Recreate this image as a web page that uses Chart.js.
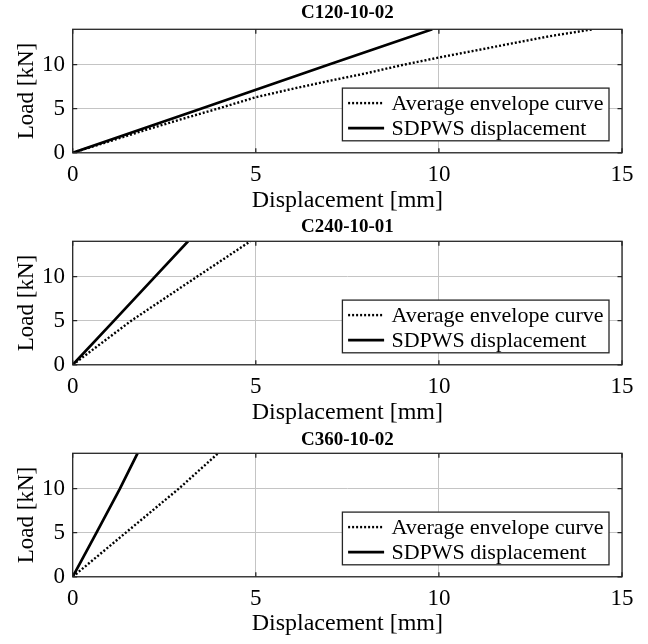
<!DOCTYPE html>
<html>
<head>
<meta charset="utf-8">
<script src="https://cdn.jsdelivr.net/npm/chart.js@4.4.1/dist/chart.umd.min.js"></script>
<style>
    html, body { margin: 0; padding: 0; background: #fff; }
    #figure { position: relative; width: 648px; height: 644px; overflow: hidden; background: #fff; }
    .panel { position: absolute; left: 0; width: 648px; height: 220px; }
</style>
</head>
<body>
<div id="figure">
    <div class="panel" style="top: 0px;"><canvas id="c120"></canvas></div>
    <div class="panel" style="top: 212.4px;"><canvas id="c240"></canvas></div>
    <div class="panel" style="top: 424px;"><canvas id="c360"></canvas></div>
</div>
<script>
// Tick values shared by all three panels
const dispTicks = [0, 5, 10, 15];
const loadTicks = [0, 5, 10];

const seriesLabels = ["Average envelope curve", "SDPWS displacement"];

// C120-10-02
const c120EnvDisp = [0, 1, 2, 3, 4, 5, 6, 7, 8, 9, 10, 11, 12, 13, 14.2];
const c120EnvLoad = [0, 1.3, 2.6, 3.85, 5.05, 6.3, 7.25, 8.15, 9.0, 9.95, 10.8, 11.6, 12.4, 13.2, 14];
const c120SdpwsDisp = [0, 3.5, 7, 9.82];
const c120SdpwsLoad = [0, 5, 10, 14];

// C240-10-01
const c240EnvDisp = [0, 1.6, 3.4, 4.85];
const c240EnvLoad = [0, 5, 10, 14];
const c240SdpwsDisp = [0, 1.13, 2.25, 3.15];
const c240SdpwsLoad = [0, 5, 10, 14];

// C360-10-02
const c360EnvDisp = [0, 1.45, 2.9, 3.97];
const c360EnvLoad = [0, 5, 10, 14];
const c360SdpwsDisp = [0, 0.65, 1.29, 1.77];
const c360SdpwsLoad = [0, 5, 10, 14];

const SERIF = "'Liberation Serif', 'Times New Roman', serif";
const CANVAS_H = 220;
const PLOT_TOP = 29.3;
const PLOT_H = 123.5;

function toPoints(xs, ys) {
    return xs.map((x, i) => ({ x: x, y: ys[i] }));
}

// Box round the axes, inner tick marks and a legend inside the lower right corner
const framePlugin = {
    id: "frame",
    afterDraw(chart) {
        const ctx = chart.ctx;
        const a = chart.chartArea;
        const xs = chart.scales.x;
        const ys = chart.scales.y;
        ctx.save();

        ctx.strokeStyle = "#262626";
        ctx.lineWidth = 1.3;
        ctx.beginPath();
        dispTicks.forEach(v => {
            const px = xs.getPixelForValue(v);
            ctx.moveTo(px, a.bottom); ctx.lineTo(px, a.bottom - 4.5);
            ctx.moveTo(px, a.top); ctx.lineTo(px, a.top + 4.5);
        });
        loadTicks.forEach(v => {
            const py = ys.getPixelForValue(v);
            ctx.moveTo(a.left, py); ctx.lineTo(a.left + 4.5, py);
            ctx.moveTo(a.right, py); ctx.lineTo(a.right - 4.5, py);
        });
        ctx.stroke();
        ctx.strokeRect(a.left, a.top, a.right - a.left, a.bottom - a.top);

        // legend
        const w = 266.6, h = 52.7;
        const bx = a.right - 13 - w;
        const by = a.bottom - 12 - h;
        ctx.fillStyle = "#fff";
        ctx.fillRect(bx, by, w, h);
        ctx.lineWidth = 1.3;
        ctx.strokeStyle = "#262626";
        ctx.strokeRect(bx, by, w, h);

        ctx.font = "22px " + SERIF;
        ctx.textBaseline = "middle";
        ctx.textAlign = "left";
        chart.data.datasets.forEach((ds, i) => {
            const ry = by + 15 + i * 25;
            ctx.strokeStyle = "#000";
            ctx.lineWidth = ds.borderWidth;
            ctx.setLineDash(ds.borderDash || []);
            ctx.beginPath();
            ctx.moveTo(bx + 5.7, ry);
            ctx.lineTo(bx + 41.7, ry);
            ctx.stroke();
            ctx.setLineDash([]);
            ctx.fillStyle = "#000";
            ctx.fillText(ds.label, bx + 49, ry + 1);
        });
        ctx.restore();
    }
};

function makePanel(id, title, envDisp, envLoad, sdpwsDisp, sdpwsLoad, titleCenter, tickCenter, labelCenter) {
    const titleTop = titleCenter - 11.4;
    return new Chart(document.getElementById(id), {
        type: "line",
        data: {
            datasets: [
                {
                    label: seriesLabels[0],
                    data: toPoints(envDisp, envLoad),
                    borderColor: "#000",
                    borderWidth: 2.4,
                    borderDash: [2, 2],
                    pointRadius: 0,
                    tension: 0,
                    fill: false,
                },
                {
                    label: seriesLabels[1],
                    data: toPoints(sdpwsDisp, sdpwsLoad),
                    borderColor: "#000",
                    borderWidth: 2.7,
                    pointRadius: 0,
                    tension: 0,
                    fill: false,
                },
            ]
        },
        options: {
            responsive: true,
            maintainAspectRatio: false,
            animation: false,
            layout: {
                padding: { left: 0, right: 26, top: 0, bottom: 0 }
            },
            plugins: {
                legend: { display: false },
                tooltip: { enabled: false },
                title: {
                    display: true,
                    fullSize: false,
                    text: title,
                    color: "#000",
                    font: { family: SERIF, size: 19, weight: "bold" },
                    padding: { top: titleTop, bottom: PLOT_TOP - 22.8 - titleTop },
                }
            },
            scales: {
                x: {
                    type: "linear",
                    position: "bottom",
                    min: 0,
                    max: 15,
                    afterBuildTicks: scale => {
                        scale.ticks = dispTicks.map(v => ({ value: v }));
                    },
                    afterFit: scale => {
                        scale.height = CANVAS_H - PLOT_TOP - PLOT_H;
                    },
                    ticks: {
                        color: "#000",
                        font: { family: SERIF, size: 23 },
                        padding: tickCenter - 13.8,
                        maxRotation: 0,
                        autoSkip: false,
                    },
                    grid: { color: "#c4c4c4", lineWidth: 1, drawTicks: false },
                    border: { display: false },
                    title: {
                        display: true,
                        text: "Displacement [mm]",
                        color: "#000",
                        font: { family: SERIF, size: 24 },
                        padding: { top: 0, bottom: CANVAS_H - PLOT_TOP - PLOT_H - labelCenter - 14.4 },
                    }
                },
                y: {
                    min: 0,
                    max: 14,
                    afterBuildTicks: scale => {
                        scale.ticks = loadTicks.map(v => ({ value: v }));
                    },
                    afterFit: scale => {
                        scale.width = 72.7;
                    },
                    ticks: {
                        color: "#000",
                        font: { family: SERIF, size: 23 },
                        padding: 7.7,
                    },
                    grid: { color: "#c4c4c4", lineWidth: 1, drawTicks: false },
                    border: { display: false },
                    title: {
                        display: true,
                        text: "Load [kN]",
                        color: "#000",
                        font: { family: SERIF, size: 23 },
                        padding: { top: 13.2, bottom: 0 },
                    }
                }
            }
        },
        plugins: [framePlugin]
    });
}

makePanel("c120", "C120-10-02", c120EnvDisp, c120EnvLoad, c120SdpwsDisp, c120SdpwsLoad, 13.5, 22, 48.4);
makePanel("c240", "C240-10-01", c240EnvDisp, c240EnvLoad, c240SdpwsDisp, c240SdpwsLoad, 15, 22.5, 48);
makePanel("c360", "C360-10-02", c360EnvDisp, c360EnvLoad, c360SdpwsDisp, c360SdpwsLoad, 16.5, 22, 47);
</script>
</body>
</html>
